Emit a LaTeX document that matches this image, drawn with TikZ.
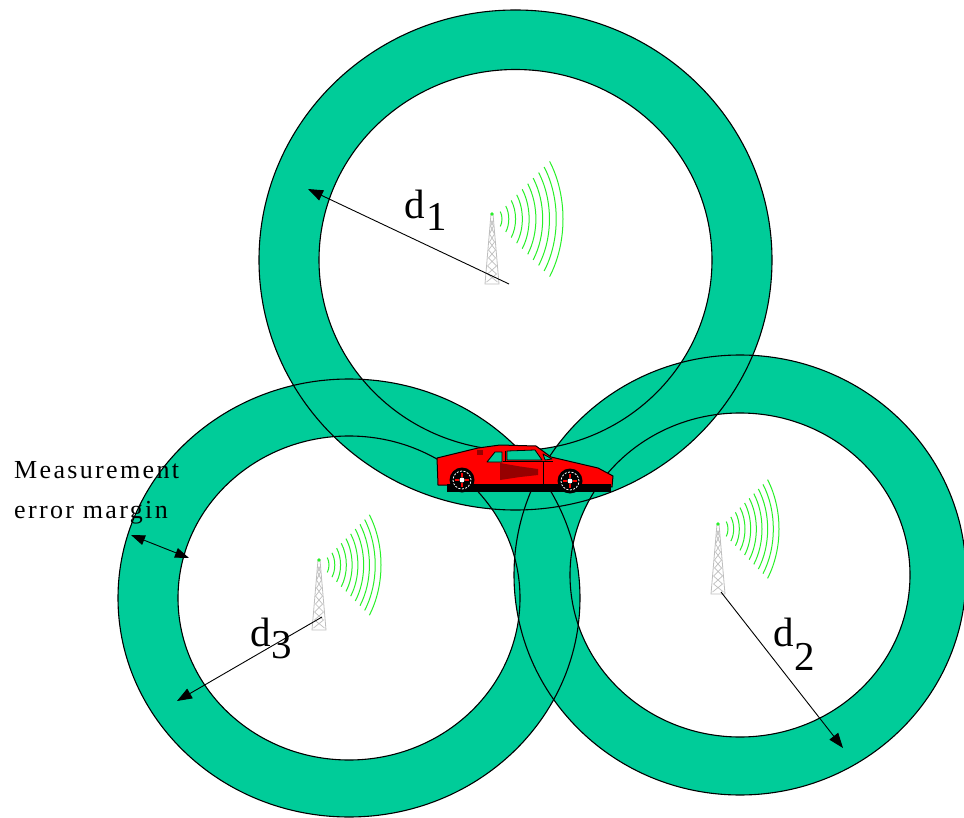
\documentclass[tikz,border=0pt]{standalone}
\usepackage{fontspec}
\setmainfont{Liberation Serif}
\usetikzlibrary{arrows.meta}

\definecolor{ringgreen}{RGB}{0,204,153}
\definecolor{wavegreen}{RGB}{40,240,40}
\definecolor{towergray}{RGB}{190,190,190}
\definecolor{carred}{RGB}{255,0,0}
\definecolor{cardark}{RGB}{150,0,0}

\tikzset{
  ringline/.style={draw=black, line width=1.1pt},
  wave/.style={draw=wavegreen, line width=1pt},
  distarrow/.style={draw=black, line width=0.9pt, -{Triangle[length=15pt,width=11pt]}},
  marginarrow/.style={draw=black, line width=0.9pt, {Triangle[length=14pt,width=10pt]}-{Triangle[length=14pt,width=10pt]}},
  dlabel/.style={inner sep=0pt, anchor=base west, font=\fontsize{41}{41}\selectfont},
  notelabel/.style={inner sep=0pt, anchor=base west, font=\fontsize{26}{26}\selectfont\addfontfeatures{LetterSpace=9}},
  tower/.pic={
    \draw[towergray, line width=0.8pt, line join=round]
      (-1,0) -- (-7,70) -- (7,70) -- (1,0) -- cycle;
    \draw[towergray, line width=0.7pt]
      (-1.5,6) -- (1.5,12) -- (-2.5,20) -- (2.5,28) -- (-3.5,36) -- (3.5,44)
      -- (-4.5,52) -- (4.5,60) -- (-5.5,68)
      (1.5,6) -- (-1.5,12) -- (2.5,20) -- (-2.5,28) -- (3.5,36) -- (-3.5,44)
      -- (4.5,52) -- (-4.5,60) -- (5.5,68);
    \fill[wavegreen] (0,0) circle[radius=1.8pt];
  }
}

\begin{document}
\begin{tikzpicture}[x=1pt, y=-1pt]
\useasboundingbox (0,0) rectangle (964,818);
\fill[white] (0,0) rectangle (964,818);

% ring centres
\coordinate (c1) at (515.5,260);
\coordinate (c2) at (740,575);
\coordinate (c3) at (349,598);

% green error bands: centre / outer radii / inner radii
\foreach \c/\Rx/\Ry/\rx/\ry in {c1/256.5/250/196.5/190.5, c2/226/220/170/162, c3/231/219/171/162}
  \fill[ringgreen, even odd rule]
    (\c) ellipse[x radius=\Rx pt, y radius=\Ry pt]
    (\c) ellipse[x radius=\rx pt, y radius=\ry pt];
\foreach \c/\Rx/\Ry/\rx/\ry in {c1/256.5/250/196.5/190.5, c2/226/220/170/162, c3/231/219/171/162}
  \draw[ringline]
    (\c) ellipse[x radius=\Rx pt, y radius=\Ry pt]
    (\c) ellipse[x radius=\rx pt, y radius=\ry pt];

% base stations
\pic at (492,214) {tower};
\pic at (718,524) {tower};
\pic at (319,560) {tower};

\coordinate (w1) at (493,219);
\coordinate (w2) at (719,529);
\coordinate (w3) at (320,565);
\foreach \w/\rmax in {w1/70, w2/60, w3/61}{
  \foreach \k in {0,...,9}{
    \pgfmathsetmacro{\r}{9+\k*(\rmax-9)/9}
    \pgfmathsetmacro{\sx}{\r*cos(36)}
    \pgfmathsetmacro{\sy}{-1.4*\r*sin(36)}
    \pgfmathsetmacro{\ry}{1.4*\r}
    \draw[wave] ([shift={(\sx pt,\sy pt)}]\w)
      arc[start angle=-36, end angle=36, x radius=\r pt, y radius=\ry pt];
  }
}

% measured distances
\coordinate (b1) at (509,284);
\coordinate (e1) at (308,189);
\coordinate (b2) at (721,592);
\coordinate (e2) at (843,748);
\coordinate (b3) at (322,617);
\coordinate (e3) at (177,701);
\draw[distarrow] (b1) -- (e1);
\draw[distarrow] (b2) -- (e2);
\draw[distarrow] (b3) -- (e3);

\node[dlabel] (d1) at (404,219) {d\kern2pt\raisebox{-12pt}{1}};
\node[dlabel] (d2) at (773,646) {d\kern1pt\raisebox{-24pt}{2}};
\node[dlabel] (d3) at (250,646) {d\kern1pt\raisebox{-12pt}{3}};

% error margin
\coordinate (m1) at (131,535);
\coordinate (m2) at (189,558);
\draw[marginarrow] (m1) -- (m2);
\node[notelabel] (note1) at (14,478) {Measurement};
\node[notelabel] (note2) at (14,518) {error margin};

% the car
\begin{scope}[line join=round]
  \filldraw[fill=carred, draw=black, line width=1pt]
    (437,458) -- (478,448) -- (500,445) -- (536,446) -- (551,457)
    -- (598,468) -- (613,476) -- (612,487) -- (438,485) -- cycle;
  \fill[black] (447,484) rectangle (611,492);
  \fill[cardark] (477,450) rectangle (483,455);
  \filldraw[fill=ringgreen, draw=black, line width=0.8pt]
    (487,462) -- (495,452) -- (502,452) -- (502,462) -- cycle;
  \filldraw[fill=ringgreen, draw=black, line width=0.8pt]
    (507,451) -- (535,450) -- (542,460) -- (507,460) -- cycle;
  \filldraw[fill=ringgreen, draw=black, line width=0.8pt]
    (543,454) -- (552,459) -- (545,460) -- cycle;
  \draw[black, line width=0.9pt] (503,461.5) -- (553,461.5)
    (505,451) -- (505,462) (543,461.5) -- (543,486);
  \fill[cardark] (500,463) -- (520,466.5) -- (538,469) -- (538,475)
    -- (520,477) -- (500,480) -- cycle;
  \foreach \wc in {(462,480), (570,481)}{
    \fill[black] \wc circle[radius=12.5pt];
    \draw[white, line width=0.8pt, dash pattern=on 2pt off 1.5pt] \wc circle[radius=9pt];
    \draw[carred, line width=1.2pt] \wc ++(-7,0) -- ++(4,0) \wc ++(3,0) -- ++(4,0)
      \wc ++(0,-7) -- ++(0,4) \wc ++(0,3) -- ++(0,4);
    \fill[white] \wc circle[radius=2.5pt];
  }
\end{scope}
\end{tikzpicture}
\end{document}
